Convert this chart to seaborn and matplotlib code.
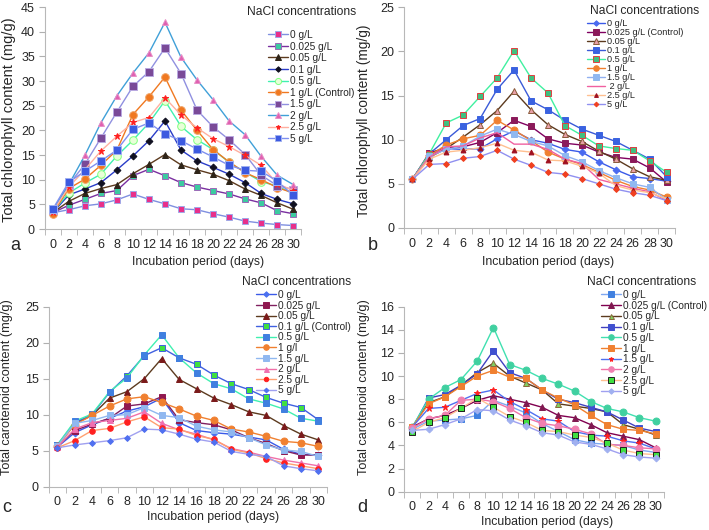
import matplotlib
matplotlib.use("Agg")
import matplotlib.pyplot as plt
import seaborn as sns
import pandas as pd

DAYS = list(range(0, 31, 2))

# ---- panel a : total chlorophyll ----
A_LABELS = ["0 g/L", "0.025 g/L", "0.05 g/L", "0.1 g/L", "0.5 g/L",
            "1 g/L (Control)", "1.5 g/L", "2 g/L", "2.5 g/L", "5 g/L"]
A_VALUES = [
    [3.3, 3.9, 4.7, 5.1, 5.9, 7.1, 6.0, 5.1, 4.1, 3.9, 3.1, 2.4, 1.6, 1.2, 0.9, 0.7],
    [3.3, 4.8, 6.0, 7.2, 7.8, 10.8, 12.1, 10.8, 9.4, 8.5, 7.8, 7.1, 6.1, 5.3, 3.7, 3.1],
    [3.3, 5.6, 7.2, 8.2, 9.0, 11.2, 13.1, 15.1, 13.0, 12.0, 11.1, 9.8, 8.1, 6.8, 5.3, 4.0],
    [3.3, 6.9, 8.1, 9.4, 12.0, 14.8, 17.9, 21.9, 16.0, 13.8, 12.5, 11.1, 9.4, 7.2, 6.0, 5.1],
    [3.5, 7.3, 9.3, 11.1, 14.8, 18.0, 21.5, 26.0, 20.8, 18.1, 16.1, 13.5, 11.5, 9.6, 8.7, 7.2],
    [3.1, 8.2, 10.1, 12.9, 16.0, 23.2, 26.8, 30.8, 24.1, 20.0, 16.1, 13.6, 11.4, 10.0, 8.4, 7.3],
    [3.8, 9.0, 13.1, 18.4, 23.7, 28.9, 31.9, 36.7, 31.5, 24.1, 20.7, 18.1, 15.1, 10.9, 8.8, 8.0],
    [3.8, 9.0, 14.9, 21.5, 27.0, 31.6, 35.7, 41.9, 34.8, 30.2, 26.2, 21.9, 19.1, 14.7, 10.9, 9.0],
    [3.5, 8.5, 12.0, 15.8, 18.8, 21.6, 22.6, 26.6, 23.1, 20.5, 18.3, 16.7, 14.9, 12.9, 9.2, 7.8],
    [4.0, 9.5, 11.7, 13.8, 16.0, 20.2, 21.5, 19.3, 17.9, 16.2, 14.6, 12.9, 11.9, 11.7, 9.7, 6.8],
]

# ---- panel b : total chlorophyll ----
B_LABELS = ["0 g/L", "0.025 g/L (Control)", "0.05 g/L", "0.1 g/L", "0.5 g/L",
            "1 g/L", "1.5 g/L", " 2 g/L", "2.5 g/L", "5 g/L"]
B_VALUES = [
    [5.5, 8.3, 9.0, 8.9, 9.0, 10.1, 11.0, 10.0, 9.6, 8.9, 8.6, 7.5, 6.6, 5.8, 5.6, 5.3],
    [5.5, 8.5, 9.1, 9.2, 9.7, 10.8, 12.2, 11.5, 10.1, 9.6, 9.4, 8.6, 8.0, 7.8, 6.8, 5.2],
    [5.5, 8.0, 9.0, 10.3, 11.7, 13.3, 15.5, 13.4, 11.7, 10.6, 9.8, 8.7, 7.8, 6.7, 5.8, 5.4],
    [5.5, 8.4, 10.0, 11.6, 12.4, 15.7, 17.9, 14.4, 13.4, 12.2, 11.2, 10.5, 9.8, 8.8, 7.8, 5.8],
    [5.5, 8.4, 11.9, 12.8, 14.9, 17.0, 20.1, 17.0, 15.3, 11.6, 10.5, 9.3, 9.0, 8.8, 7.6, 6.3],
    [5.5, 8.2, 9.4, 10.1, 10.5, 12.2, 11.1, 9.9, 8.6, 7.8, 7.2, 6.3, 5.4, 4.7, 4.3, 3.5],
    [5.5, 8.1, 8.9, 9.3, 10.4, 11.2, 10.6, 9.8, 9.3, 8.2, 7.5, 6.5, 5.7, 5.0, 4.6, 3.2],
    [5.5, 8.0, 9.2, 9.3, 10.2, 10.8, 9.5, 9.5, 8.9, 7.8, 7.3, 5.5, 5.0, 4.5, 4.1, 3.1],
    [5.5, 7.8, 8.6, 8.8, 9.1, 9.6, 8.8, 8.6, 7.7, 7.6, 7.0, 6.2, 4.8, 4.3, 4.0, 3.3],
    [5.5, 7.2, 7.3, 7.9, 8.1, 8.8, 7.8, 7.1, 6.3, 6.1, 5.6, 5.0, 4.4, 4.0, 3.7, 3.1],
]

# ---- panel c : total carotenoid ----
C_LABELS = ["0 g/L", "0.025 g/L", "0.05 g/L", "0.1 g/L (Control)", "0.5 g/L",
            "1 g/l", "1.5 g/L", "2 g/L", "2.5 g/L", "5 g/L"]
C_VALUES = [
    [5.5, 7.5, 8.6, 9.5, 10.5, 11.1, 12.3, 8.9, 7.8, 7.5, 7.3, 6.9, 6.5, 5.2, 4.5, 4.4],
    [5.6, 7.8, 8.7, 9.5, 11.2, 11.5, 12.5, 9.3, 8.9, 8.6, 7.9, 6.8, 6.0, 5.0, 4.4, 4.4],
    [5.7, 8.8, 9.9, 12.3, 13.2, 15.0, 17.8, 14.9, 13.6, 12.3, 11.4, 10.4, 9.9, 8.5, 7.3, 6.5],
    [5.8, 8.9, 10.0, 13.1, 15.4, 18.2, 19.3, 17.9, 17.0, 15.5, 14.3, 13.5, 12.4, 11.6, 11.0, 9.3],
    [5.8, 9.1, 10.1, 13.2, 15.1, 18.3, 21.1, 17.9, 15.8, 14.3, 13.6, 12.2, 11.6, 10.8, 9.5, 9.1],
    [5.6, 8.6, 9.9, 11.2, 12.2, 12.5, 11.7, 10.8, 9.8, 9.2, 8.0, 7.6, 7.0, 6.3, 6.1, 5.6],
    [5.6, 8.8, 9.2, 9.9, 10.0, 11.0, 9.9, 9.6, 8.4, 7.9, 7.6, 6.8, 5.8, 5.1, 4.9, 4.2],
    [5.5, 8.0, 8.9, 9.2, 9.5, 10.4, 8.8, 7.9, 7.3, 6.5, 5.3, 4.8, 4.2, 3.7, 3.3, 2.9],
    [5.4, 6.4, 7.8, 8.1, 9.0, 9.7, 8.2, 8.0, 7.1, 6.6, 5.2, 4.7, 3.9, 3.3, 2.9, 2.5],
    [5.4, 5.8, 6.1, 6.4, 6.8, 8.0, 7.9, 7.3, 6.6, 6.2, 4.9, 4.5, 4.2, 2.9, 2.5, 2.2],
]

# ---- panel d : total carotenoid ----
D_LABELS = ["0 g/L", "0.025 g/L (Control)", "0.05 g/L", "0.1 g/L", "0.5 g/L",
            "1 g/L", "1.5 g/L", "2 g/L", "2.5 g/L", "5 g/L"]
D_VALUES = [
    [5.4, 6.1, 6.2, 6.3, 6.6, 7.9, 7.4, 6.8, 5.9, 5.2, 4.5, 4.2, 4.1, 4.0, 3.6, 3.4],
    [5.6, 6.3, 6.6, 7.2, 7.9, 8.3, 8.0, 7.7, 7.3, 6.6, 6.4, 5.8, 5.1, 4.8, 4.5, 3.8],
    [5.6, 7.7, 8.2, 9.2, 10.3, 11.1, 10.0, 9.4, 8.8, 7.6, 7.4, 7.2, 6.9, 5.8, 5.4, 4.9],
    [5.5, 8.1, 8.4, 9.2, 10.2, 12.2, 10.3, 9.8, 8.8, 8.0, 7.7, 7.3, 6.9, 6.2, 5.5, 5.2],
    [5.6, 8.0, 9.0, 9.7, 11.3, 14.2, 11.0, 10.5, 9.8, 9.3, 8.7, 7.8, 7.2, 6.9, 6.4, 6.1],
    [5.6, 7.6, 8.2, 9.1, 10.0, 10.5, 9.9, 9.8, 8.8, 8.1, 7.5, 6.6, 5.8, 5.4, 5.3, 5.0],
    [5.6, 7.2, 7.3, 7.9, 8.5, 8.8, 7.8, 7.1, 6.3, 6.1, 5.2, 4.9, 4.8, 4.4, 4.2, 3.7],
    [5.5, 6.3, 6.6, 7.9, 8.0, 7.8, 7.2, 6.4, 5.9, 5.7, 5.4, 5.0, 4.1, 4.0, 3.8, 3.7],
    [5.2, 6.0, 6.4, 7.2, 8.1, 7.3, 6.5, 6.0, 5.3, 5.2, 4.9, 4.7, 4.2, 3.6, 3.3, 3.2],
    [5.3, 5.4, 5.8, 6.3, 7.1, 7.0, 6.2, 5.7, 5.1, 4.9, 4.3, 4.1, 3.7, 3.2, 3.0, 2.9],
]

# style: line colour, marker, marker face, marker edge, marker size
A_STYLE = [
    ("#7f8fe0", "s", "#e8308a", "#a0a8e8", 5),
    ("#7a2fa0", "s", "#3ccba0", "#9b6ab8", 5),
    ("#5c3a1e", "^", "#2e2418", "#2e2418", 5),
    ("#2a3cc8", "D", "#101020", "#101020", 3.5),
    ("#40f0b0", "o", "#e8ffd8", "#80ff80", 5.5),
    ("#f07820", "o", "#f07820", "#f0a060", 5.5),
    ("#9090e0", "s", "#7a4a98", "#b8a8e0", 5.5),
    ("#40a0d8", "^", "#e060b0", "#e890c8", 5),
    ("#ffb0a0", "*", "#ff2020", "#ff2020", 4.5),
    ("#8090f0", "s", "#3c5ae0", "#a0b0f0", 5.5),
]
B_STYLE = [
    ("#3a5ae8", "D", "#4a6af0", "#4a6af0", 3.5),
    ("#800060", "s", "#8b1a5a", "#8b1a5a", 5),
    ("#5c3a1e", "^", "#e8a0a8", "#8a5a3a", 5),
    ("#3a5ad8", "s", "#3a62e0", "#3a62e0", 5),
    ("#40f0a0", "s", "#40c080", "#e04040", 5),
    ("#f08030", "o", "#f08030", "#f08030", 5),
    ("#90b0f0", "s", "#90b8f0", "#90b8f0", 5),
    ("#f060a0", "", "#f060a0", "#f060a0", 1),
    ("#ffc090", "^", "#a01020", "#a01020", 3.5),
    ("#9090f0", "D", "#f04020", "#f04020", 3),
]
C_STYLE = [
    ("#3a5ae8", "D", "#4a70f0", "#4a70f0", 3.5),
    ("#802060", "s", "#901850", "#901850", 5),
    ("#5c3a1e", "^", "#7a1a1a", "#7a1a1a", 5),
    ("#4060e0", "s", "#40e040", "#4060e0", 5),
    ("#40f0b0", "s", "#4080e0", "#4080e0", 5),
    ("#f08030", "o", "#f08030", "#f08030", 5),
    ("#90b8f0", "s", "#90b8f0", "#90b8f0", 5),
    ("#f070a8", "^", "#f070b0", "#f070b0", 4.5),
    ("#ffa070", "o", "#ff2020", "#ff2020", 4),
    ("#a0a0f0", "D", "#5070f0", "#5070f0", 3),
]
D_STYLE = [
    ("#80a8f0", "s", "#4080e0", "#4080e0", 5),
    ("#800050", "^", "#801850", "#801850", 5),
    ("#5c3a1e", "^", "#80d060", "#8a6a3a", 4.5),
    ("#4040c0", "s", "#4050d0", "#4050d0", 5),
    ("#40e0b0", "o", "#40d0a0", "#40d0a0", 5),
    ("#f08030", "s", "#f08030", "#f08030", 5),
    ("#5070f0", "*", "#ff2020", "#ff2020", 4.5),
    ("#f070a8", "o", "#f080b0", "#f080b0", 5),
    ("#ffc090", "s", "#40e040", "#202020", 5),
    ("#a0a0f0", "D", "#a0b0f0", "#a0b0f0", 3.5),
]

sns.set_style("white")
plt.rcParams["font.family"] = ["Liberation Sans", "DejaVu Sans"]

fig = plt.figure(figsize=(7.09, 5.30), dpi=100)
W, H = 709.0, 530.0


def px_axes(left, right, top, bottom):
    return fig.add_axes([left / W, 1 - bottom / H, (right - left) / W, (bottom - top) / H])


def draw(ax, labels, values, styles, ymax, ystep):
    for lab, vals, st in zip(labels, values, styles):
        lc, mk, fc, ec, ms = st
        df = pd.DataFrame({"day": DAYS, "val": vals})
        sns.lineplot(data=df, x="day", y="val", ax=ax, color=lc, linewidth=1.0,
                     marker=mk if mk else None, markerfacecolor=fc, markeredgecolor=ec,
                     markersize=ms, markeredgewidth=0.7, label=lab)
    ax.set_xlim(-1, 31)
    ax.set_ylim(0, ymax)
    ax.set_xticks(DAYS)
    ax.set_xticks(range(-1, 32, 2), minor=True)
    ax.set_yticks(range(0, ymax + 1, ystep))
    ax.tick_params(axis="x", which="major", length=0, pad=7, labelsize=9)
    ax.tick_params(axis="x", which="minor", length=4, color="#b0b0b0", direction="out")
    ax.tick_params(axis="y", length=4, color="#b0b0b0", direction="out", labelsize=9, pad=3)
    ax.xaxis.set_tick_params(bottom=True, which="both")
    ax.yaxis.set_tick_params(left=True)
    for s in ["top", "right"]:
        ax.spines[s].set_visible(False)
    for s in ["left", "bottom"]:
        ax.spines[s].set_color("#b8b8b8")
        ax.spines[s].set_linewidth(0.8)
    ax.set_xlabel("")
    ax.set_ylabel("")


def legend(ax, x, y, spacing, size=7.3):
    ax.legend(loc="upper left", bbox_to_anchor=(x / W, 1 - y / H), bbox_transform=fig.transFigure,
              frameon=False, fontsize=size, handlelength=2.0, handletextpad=0.2,
              labelspacing=spacing, borderpad=0, borderaxespad=0, markerscale=0.8)


ax_a = px_axes(44.7, 301.3, 7.0, 229.0)
draw(ax_a, A_LABELS, A_VALUES, A_STYLE, 45, 5)
legend(ax_a, 268, 30, 0.15)

ax_b = px_axes(403.8, 675.2, 7.3, 228.0)
draw(ax_b, B_LABELS, B_VALUES, B_STYLE, 25, 5)
legend(ax_b, 587, 19, 0.0, size=6.6)

ax_c = px_axes(48.6, 327.0, 306.7, 486.7)
draw(ax_c, C_LABELS, C_VALUES, C_STYLE, 25, 5)
legend(ax_c, 256, 290, 0.06)

ax_d = px_axes(404.2, 663.8, 306.7, 491.7)
draw(ax_d, D_LABELS, D_VALUES, D_STYLE, 16, 2)
legend(ax_d, 601, 290, 0.07)

# legend titles
for x, y in [(247, 12), (590, 11), (242, 282), (587, 282)]:
    fig.text(x / W, 1 - y / H, "NaCl concentrations", fontsize=8.7, va="center", ha="left")

# axis labels
for x, y in [(198, 262), (548, 262), (213, 517), (547, 522)]:
    fig.text(x / W, 1 - y / H, "Incubation period (days)", fontsize=8.8, ha="center", va="center")
for x, y, t, fs in [(9, 120, "Total chlorophyll content (mg/g)", 10.5),
                    (364, 121, "Total chlorophyll content (mg/g)", 9.9),
                    (7, 387, "Total carotenoid content (mg/g)", 9.2),
                    (364, 387, "Total carotenoid content (mg/g)", 9.2)]:
    fig.text(x / W, 1 - y / H, t, fontsize=fs, ha="center", va="center", rotation=90)

# panel letters
for x, y, t in [(15, 246, "a"), (373, 246, "b"), (7, 508, "c"), (362, 508, "d")]:
    fig.text(x / W, 1 - y / H, t, fontsize=13, ha="center", va="center")

fig.savefig("out.png", dpi=100)
